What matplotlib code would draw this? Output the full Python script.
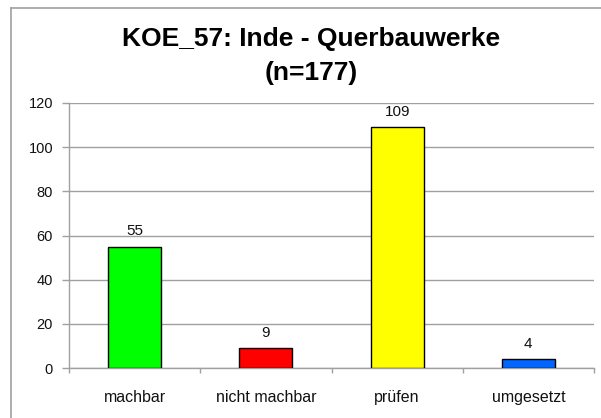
import matplotlib
matplotlib.use("Agg")
import matplotlib.pyplot as plt
from matplotlib.lines import Line2D

plt.rcParams["font.family"] = ["Liberation Sans", "DejaVu Sans"]

categories = ["machbar", "nicht machbar", "prüfen", "umgesetzt"]
counts = [55, 9, 109, 4]
bar_colors = ["#00FF00", "#FF0000", "#FFFF00", "#0066FF"]
y_ticks = [0, 20, 40, 60, 80, 100, 120]
title_lines = ["KOE_57: Inde - Querbauwerke", "(n=177)"]

W, H = 601, 418
fig = plt.figure(figsize=(W / 100, H / 100), dpi=100)
fig.patch.set_facecolor("white")

# chart area border (only left and top visible in the crop)
grey = "#A0A0A0"
fig.add_artist(Line2D([11 / W, 11 / W], [0, 1 - 8 / H], transform=fig.transFigure, color=grey, lw=1.2))
fig.add_artist(Line2D([11 / W, 1], [1 - 8 / H, 1 - 8 / H], transform=fig.transFigure, color=grey, lw=1.2))

ax = fig.add_axes([69 / W, 50 / H, (594 - 69) / W, (368 - 103) / H])
x = range(len(categories))
bars = ax.bar(x, counts, width=0.405, color=bar_colors, edgecolor="black", linewidth=1.0, zorder=3)

ax.set_xlim(-0.5, len(categories) - 0.5)
ax.set_ylim(0, 120)
ax.set_yticks(y_ticks)
ax.set_yticklabels([str(t) for t in y_ticks], fontsize=10.5, color="#111111")
ax.yaxis.grid(True, color=grey, lw=1.0, zorder=0)
ax.tick_params(axis="y", length=5, width=1, color=grey, pad=6.5)

# category labels between tick marks at boundaries
ax.set_xticks([i - 0.5 for i in range(len(categories) + 1)], minor=False)
ax.set_xticklabels([])
ax.tick_params(axis="x", length=3.6, width=1, color=grey)
ax.set_xticks(list(x), minor=True)
ax.set_xticklabels(categories, minor=True, fontsize=11.5, color="#111111")
ax.tick_params(axis="x", which="minor", length=0, pad=15.5)

for s in ["top", "right"]:
    ax.spines[s].set_visible(False)
for s in ["left", "bottom"]:
    ax.spines[s].set_color(grey)
    ax.spines[s].set_linewidth(1.0)

for b, v in zip(bars, counts):
    ax.annotate(str(v), (b.get_x() + b.get_width() / 2, v), xytext=(0, 6),
                textcoords="offset points", ha="center", va="bottom",
                fontsize=11, color="#111111")

fig.text(311 / W, 1 - 46 / H, title_lines[0], ha="center", va="baseline",
         fontsize=19, fontweight="bold")
fig.text(311 / W, 1 - 80 / H, title_lines[1], ha="center", va="baseline",
         fontsize=19, fontweight="bold")

fig.savefig("out.png", dpi=100, facecolor="white")
